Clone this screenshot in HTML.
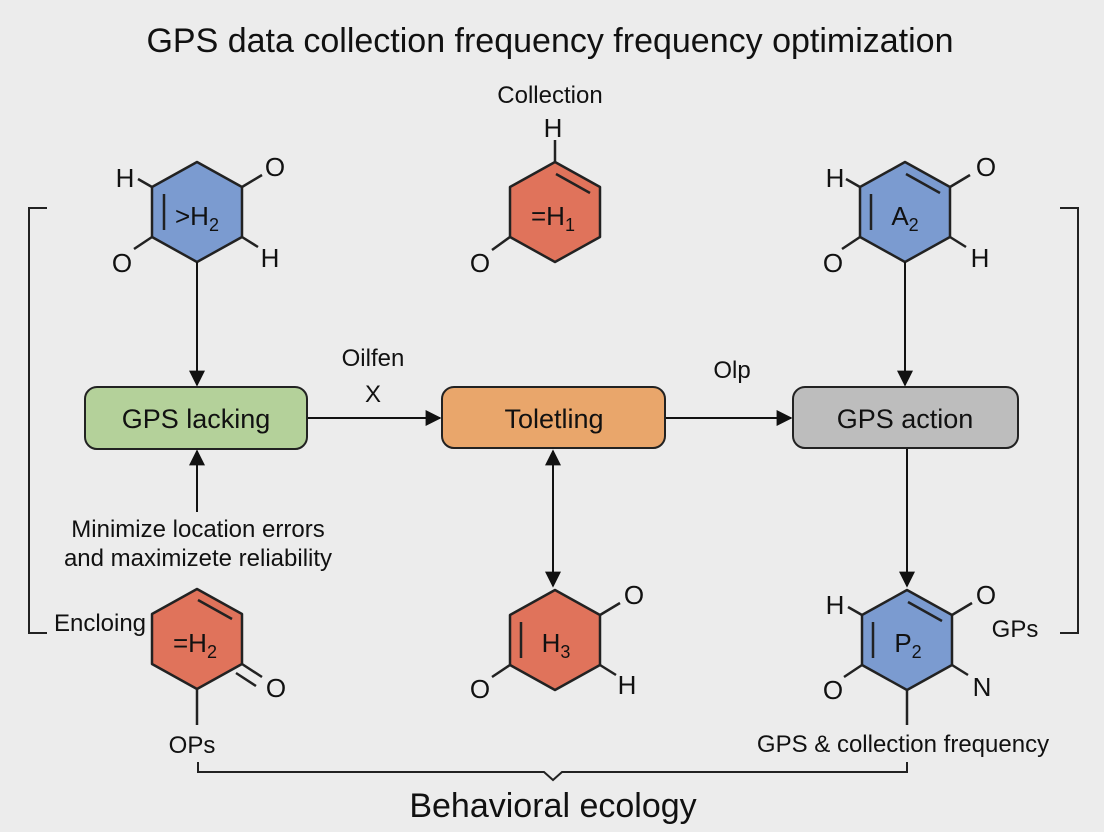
<!DOCTYPE html>
<html><head><meta charset="utf-8"><style>
html,body{margin:0;padding:0;background:#ececec;}
svg{display:block;font-family:"Liberation Sans",sans-serif;}
</style></head><body>
<svg width="1104" height="832" viewBox="0 0 1104 832">
<defs>
<marker id="b" viewBox="0 0 10 10" refX="9" refY="5" markerWidth="16" markerHeight="16" orient="auto-start-reverse" markerUnits="userSpaceOnUse"><path d="M0,0 L10,5 L0,10z" fill="#111"/></marker></defs>
<rect width="1104" height="832" fill="#ececec"/>
<g fill="#111" text-anchor="middle">
<text x="550" y="52" font-size="34">GPS data collection frequency frequency optimization</text>
<text x="550" y="103" font-size="24">Collection</text>
<text x="553" y="817" font-size="34">Behavioral ecology</text>
</g>
<g stroke="#222" stroke-width="2" fill="none">
<path d="M47,208 H29 V633 H47"/>
<path d="M1060,208 H1078 V633 H1060"/>
<path d="M198,762 V772 H544 L553,780 L562,772 H907 V762"/>
</g>
<g stroke="#222" stroke-width="2.5" stroke-linejoin="round">
<polygon points="197,162 242,187 242,237 197,262 152,237 152,187" fill="#7b9bd0"/>
<line x1="164" y1="194" x2="164" y2="230"/>
<line x1="152" y1="187" x2="138" y2="179"/><line x1="242" y1="187" x2="262" y2="175"/>
<line x1="152" y1="237" x2="134" y2="249"/><line x1="242" y1="237" x2="258" y2="247"/>
<polygon points="555,162 600,187 600,237 555,262 510,237 510,187" fill="#e0735b"/>
<line x1="556" y1="174" x2="590" y2="193"/><line x1="555" y1="140" x2="555" y2="162"/>
<line x1="510" y1="237" x2="492" y2="250"/>
<polygon points="905,162 950,187 950,237 905,262 860,237 860,187" fill="#7b9bd0"/>
<line x1="906" y1="174" x2="940" y2="193"/><line x1="871" y1="194" x2="871" y2="230"/>
<line x1="860" y1="187" x2="846" y2="179"/><line x1="950" y1="187" x2="970" y2="175"/>
<line x1="860" y1="237" x2="842" y2="249"/><line x1="950" y1="237" x2="966" y2="247"/>
<polygon points="197,589 242,614 242,664 197,689 152,664 152,614" fill="#e0735b"/>
<line x1="198" y1="600" x2="232" y2="619"/>
<line x1="242" y1="664" x2="262" y2="677"/><line x1="236" y1="673" x2="256" y2="686"/>
<line x1="197" y1="689" x2="197" y2="725"/>
<polygon points="555,590 600,615 600,665 555,690 510,665 510,615" fill="#e0735b"/>
<line x1="521" y1="622" x2="521" y2="658"/>
<line x1="600" y1="615" x2="620" y2="603"/><line x1="510" y1="665" x2="492" y2="677"/>
<line x1="600" y1="665" x2="616" y2="675"/>
<polygon points="907,590 952,615 952,665 907,690 862,665 862,615" fill="#7b9bd0"/>
<line x1="908" y1="602" x2="942" y2="621"/><line x1="873" y1="622" x2="873" y2="658"/>
<line x1="862" y1="615" x2="848" y2="607"/><line x1="952" y1="615" x2="972" y2="603"/>
<line x1="862" y1="665" x2="844" y2="677"/><line x1="952" y1="665" x2="968" y2="675"/>
<line x1="907" y1="690" x2="907" y2="725"/>
</g>
<g fill="#111" font-size="26" text-anchor="middle">
<text x="125" y="187">H</text><text x="275" y="176">O</text><text x="122" y="272">O</text><text x="270" y="267">H</text>
<text x="553" y="137">H</text><text x="480" y="272">O</text>
<text x="835" y="187">H</text><text x="986" y="176">O</text><text x="833" y="272">O</text><text x="980" y="267">H</text>
<text x="276" y="697">O</text>
<text x="634" y="604">O</text><text x="480" y="698">O</text><text x="627" y="694">H</text>
<text x="835" y="614">H</text><text x="986" y="604">O</text><text x="833" y="699">O</text><text x="982" y="696">N</text>
<text x="197" y="225">&gt;H<tspan font-size="18" dy="6">2</tspan></text>
<text x="553" y="225">=H<tspan font-size="18" dy="6">1</tspan></text>
<text x="905" y="225">A<tspan font-size="18" dy="6">2</tspan></text>
<text x="195" y="652">=H<tspan font-size="18" dy="6">2</tspan></text>
<text x="556" y="652">H<tspan font-size="18" dy="6">3</tspan></text>
<text x="908" y="652">P<tspan font-size="18" dy="6">2</tspan></text>
</g>
<g fill="#111" font-size="24" text-anchor="middle">
<text x="100" y="631">Encloing</text>
<text x="192" y="753">OPs</text>
<text x="1015" y="637">GPs</text>
<text x="903" y="752">GPS &amp; collection frequency</text>
<text x="198" y="537">Minimize location errors</text>
<text x="198" y="566">and maximizete reliability</text>
<text x="373" y="366">Oilfen</text>
<text x="373" y="402">X</text>
<text x="732" y="378">Olp</text>
</g>
<rect x="85" y="387" width="222" height="62" rx="12" fill="#b4d19a" stroke="#222" stroke-width="2"/>
<rect x="442" y="387" width="223" height="61" rx="12" fill="#e9a66b" stroke="#222" stroke-width="2"/>
<rect x="793" y="387" width="225" height="61" rx="12" fill="#bdbdbd" stroke="#222" stroke-width="2"/>
<g fill="#111" font-size="27" text-anchor="middle">
<text x="196" y="428">GPS lacking</text>
<text x="554" y="428">Toletling</text>
<text x="905" y="428">GPS action</text>
</g>
<g stroke="#111" stroke-width="2" fill="none">
<line x1="197" y1="262" x2="197" y2="385" marker-end="url(#b)"/>
<line x1="197" y1="512" x2="197" y2="451" marker-end="url(#b)"/>
<line x1="308" y1="418" x2="440" y2="418" marker-end="url(#b)"/>
<line x1="666" y1="418" x2="791" y2="418" marker-end="url(#b)"/>
<line x1="905" y1="262" x2="905" y2="385" marker-end="url(#b)"/>
<line x1="907" y1="449" x2="907" y2="586" marker-end="url(#b)"/>
<line x1="553" y1="451" x2="553" y2="586" marker-start="url(#b)" marker-end="url(#b)"/>
</g>
</svg>
</body></html>
